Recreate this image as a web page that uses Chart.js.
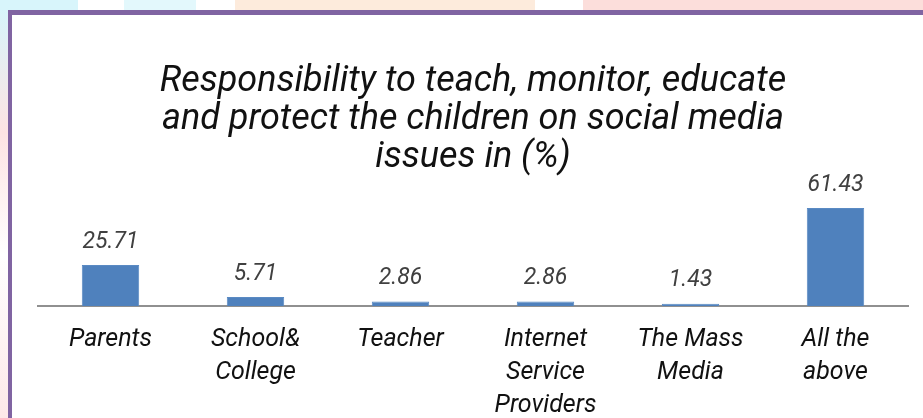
<!DOCTYPE html>
<html>
<head>
<meta charset="utf-8">
<script src="https://cdn.jsdelivr.net/npm/chart.js@4.4.1/dist/chart.umd.min.js"></script>
<style>
  html, body { margin: 0; padding: 0; width: 923px; height: 418px; overflow: hidden; background: #fff; }
  .wm { position: absolute; }
  #frame { position: absolute; left: 8px; top: 10px; width: 930px; height: 430px;
           border-left: 4px solid #8064a2; border-top: 5px solid #8064a2; background: #fff; }
  #wrap { position: absolute; left: 0; top: 0; width: 923px; height: 440px; }
</style>
</head>
<body>
<!-- faded watermark strip behind the frame -->
<div class="wm" style="left:0;top:0;width:78px;height:10px;background:#d8f5fb"></div>
<div class="wm" style="left:124px;top:0;width:72px;height:10px;background:#e3f8fc"></div>
<div class="wm" style="left:235px;top:0;width:300px;height:10px;background:#fdebdc"></div>
<div class="wm" style="left:583px;top:0;width:340px;height:10px;background:#fcdedb"></div>
<div class="wm" style="left:0;top:10px;width:8px;height:408px;background:linear-gradient(#d8f5fb,#fde3e3 30%,#fff 60%,#fde8e8)"></div>
<div id="frame"></div>
<div id="wrap"><canvas id="myChart" width="923" height="440"></canvas></div>
<script>
const categories = ["Parents", ["School&", "College"], "Teacher", ["Internet", "Service", "Providers"], ["The Mass", "Media"], ["All the", "above"]];
const values = [25.71, 5.71, 2.86, 2.86, 1.43, 61.43];
const titleLines = ["Responsibility to teach, monitor, educate", "and protect the children on social media", "issues in (%)"];

const FONT = "Roboto, 'Liberation Sans Narrow', sans-serif";

const valueLabels = {
  id: "valueLabels",
  afterDatasetsDraw(chart) {
    const ctx = chart.ctx;
    const meta = chart.getDatasetMeta(0);
    ctx.save();
    ctx.font = "italic 23px " + FONT;
    ctx.fillStyle = "#404040";
    ctx.textAlign = "center";
    ctx.textBaseline = "middle";
    meta.data.forEach((bar, i) => {
      ctx.fillText(values[i].toFixed(2), bar.x, bar.y - 23);
    });
    ctx.restore();
  }
};

const ctx = document.getElementById("myChart");
new Chart(ctx, {
  type: "bar",
  data: {
    labels: categories,
    datasets: [
      {
        label: "%",
        data: values,
        backgroundColor: "#4f81bd",
        borderColor: "#5a8ac3",
        borderWidth: 1,
        barPercentage: 0.55,
        categoryPercentage: 0.72
      }
    ]
  },
  options: {
    responsive: false,
    animation: false,
    layout: { padding: { left: 38, right: 15, top: 0, bottom: 9 } },
    plugins: {
      legend: { display: false },
      tooltip: { enabled: false },
      title: {
        display: true,
        text: titleLines,
        color: "#111",
        font: { family: FONT, size: 36, style: "italic", weight: "normal", lineHeight: 1.05 },
        padding: { top: 63, bottom: 10 }
      }
    },
    scales: {
      y: {
        display: false,
        min: 0,
        max: 75
      },
      x: {
        grid: { display: false },
        border: { display: true, color: "#909090", width: 2 },
        ticks: {
          color: "#111",
          padding: 9,
          maxRotation: 0,
          autoSkip: false,
          font: { family: FONT, size: 25, style: "italic", lineHeight: 1.32 }
        }
      }
    }
  },
  plugins: [valueLabels]
});
</script>
</body>
</html>
